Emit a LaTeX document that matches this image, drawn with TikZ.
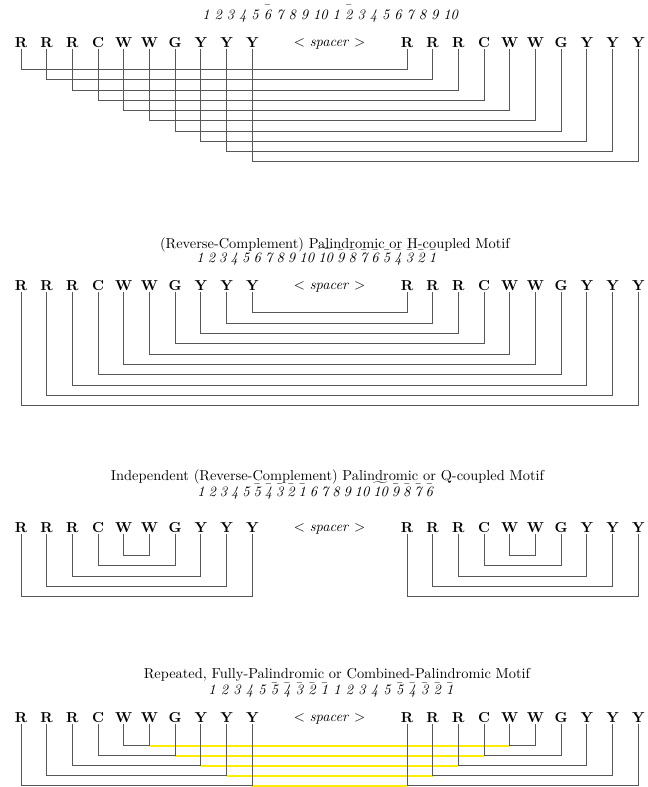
\documentclass[tikz,border=0pt]{standalone}
\usepackage{amsmath}
\newcommand\myob[1]{$\stackrel{\scriptscriptstyle -}{\textit{#1}}$}
\newcommand\mybar[1]{$\bar{\textit{#1}}$}
\newcommand\mytil[1]{$\widetilde{\textit{#1}}$}
\begin{document}
\begin{tikzpicture}[x=0.6944pt,y=-0.6944pt,
  let/.style={font=\bfseries, inner sep=0.7pt, text height=7pt, text depth=0pt, anchor=base},
  num/.style={font=\itshape, inner sep=0pt, anchor=base west},
  ttl/.style={inner sep=0pt, anchor=base},
  spc/.style={inner sep=0pt, anchor=base},
  conn/.style={draw=black!66, line width=0.65pt},
  yel/.style={draw=yellow!95!orange, line width=1.1pt}]
\useasboundingbox (0,0) rectangle (647,787);

% letters
\foreach \s/\b in {1/47.4,2/290.3,3/532.7,4/722.3}{
  \foreach \L [count=\i] in {R,R,R,C,W,W,G,Y,Y,Y}{
    \node[let] (s\s a\i) at ({21+25.7*(\i-1)}, \b) {\L};
    \node[let] (s\s b\i) at ({407+25.7*(\i-1)}, \b) {\L};
  }
  \node[spc] (sp\s) at (329.5,{\b-1}) {$<$ \textit{spacer} $>$};
}

% section 1
\node[num] (n1) at (202,19) {\spaceskip=3.4pt 1 2 3 4 5 \myob{6} 7 8 9 10 1 \myob{2} 3 4 5 6 7 8 9 10};
\foreach \i in {1,...,10}
  \draw[conn] (s1a\i.south) -- ++(0,{20.8+10.26*(\i-1)}) -| (s1b\i.south);

% section 2
\node[ttl] (t2) at (335,248) {(Reverse-Complement) Palindromic or H-coupled Motif};
\node[num] (n2) at (196,262) {\spaceskip=2.85pt 1 2 3 4 5 6 7 8 9 10 \mytil{10} \mybar{9} \mybar{8} \mybar{7} \mybar{6} \mybar{5} \mybar{4} \mybar{3} \mybar{2} \mybar{1}};
\foreach \k in {1,...,10}{
  \pgfmathtruncatemacro\j{11-\k}
  \draw[conn] (s2a\j.south) -- ++(0,{21.2+10.33*(\k-1)}) -| (s2b\k.south);
}

% section 3
\node[ttl] (t3) at (327.5,480.5) {Independent (Reverse-Complement) Palindromic or Q-coupled Motif};
\node[num] (n3) at (197,496) {\spaceskip=2.7pt 1 2 3 4 5 \mybar{5} \mybar{4} \mybar{3} \mybar{2} \mybar{1} 6 7 8 9 10 \mytil{10} \mybar{9} \mybar{8} \mybar{7} \mybar{6}};
\foreach \k in {1,...,5}{
  \pgfmathtruncatemacro\p{6-\k}
  \pgfmathtruncatemacro\q{5+\k}
  \draw[conn] (s3a\p.south) -- ++(0,{21.3+10.4*(\k-1)}) -| (s3a\q.south);
  \draw[conn] (s3b\p.south) -- ++(0,{21.3+10.4*(\k-1)}) -| (s3b\q.south);
}

% section 4
\node[ttl] (t4) at (337,678) {Repeated, Fully-Palindromic or Combined-Palindromic Motif};
\node[num] (n4) at (208,694.5) {1 2 3 4 5 \mybar{5} \mybar{4} \mybar{3} \mybar{2} \mybar{1} 1 2 3 4 5 \mybar{5} \mybar{4} \mybar{3} \mybar{2} \mybar{1}};
\foreach \k in {1,...,5}{
  \pgfmathtruncatemacro\p{6-\k}
  \pgfmathtruncatemacro\q{5+\k}
  \path (s4a\q.south) ++(0,{22.2+10*(\k-1)}) coordinate (ya\k);
  \draw[yel] (ya\k) -- (ya\k -| s4b\p.south);
}
\foreach \k in {1,...,5}{
  \pgfmathtruncatemacro\p{6-\k}
  \pgfmathtruncatemacro\q{5+\k}
  \draw[conn] (s4a\p.south) -- ++(0,{22.2+10*(\k-1)}) -| (s4a\q.south);
  \draw[conn] (s4b\p.south) -- ++(0,{22.2+10*(\k-1)}) -| (s4b\q.south);
}
\end{tikzpicture}
\end{document}
